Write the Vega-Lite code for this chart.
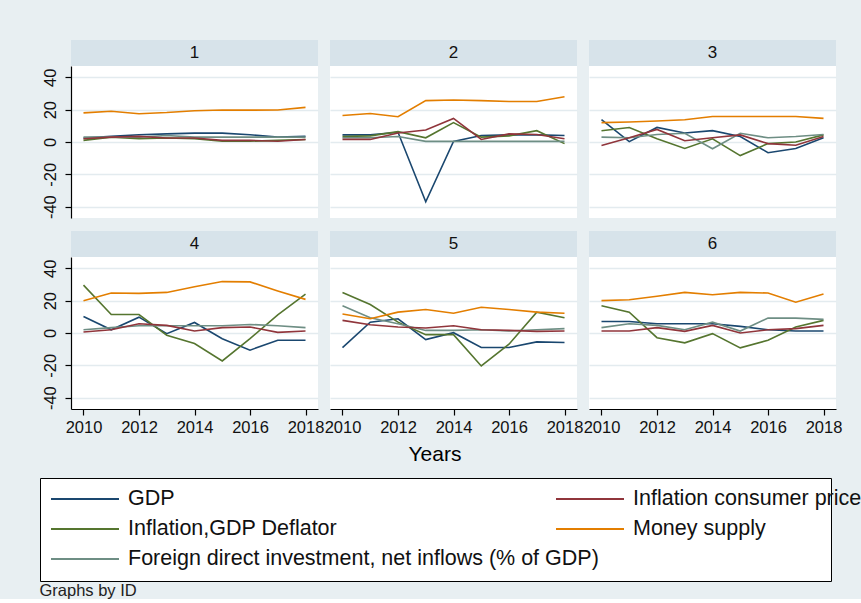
{
  "$schema": "https://vega.github.io/schema/vega-lite/v6.json",
  "background": "#e8eff2",
  "padding": {"left": 39, "top": 39, "right": 0, "bottom": 0},
  "data": {"values": [
    {"id":1,"year":2010,"GDP":2.5,"Inflation consumer price":2,"Inflation,GDP Deflator":1,"Money supply":18,"Foreign direct investment, net inflows (% of GDP)":3},
    {"id":1,"year":2011,"GDP":3.5,"Inflation consumer price":3,"Inflation,GDP Deflator":3,"Money supply":19,"Foreign direct investment, net inflows (% of GDP)":3},
    {"id":1,"year":2012,"GDP":4.5,"Inflation consumer price":3.5,"Inflation,GDP Deflator":2,"Money supply":17.5,"Foreign direct investment, net inflows (% of GDP)":3},
    {"id":1,"year":2013,"GDP":5,"Inflation consumer price":2.5,"Inflation,GDP Deflator":2.5,"Money supply":18.2,"Foreign direct investment, net inflows (% of GDP)":4},
    {"id":1,"year":2014,"GDP":5.5,"Inflation consumer price":2.5,"Inflation,GDP Deflator":2,"Money supply":19.3,"Foreign direct investment, net inflows (% of GDP)":3},
    {"id":1,"year":2015,"GDP":5.5,"Inflation consumer price":1,"Inflation,GDP Deflator":0.5,"Money supply":19.8,"Foreign direct investment, net inflows (% of GDP)":3},
    {"id":1,"year":2016,"GDP":4.5,"Inflation consumer price":1,"Inflation,GDP Deflator":0.5,"Money supply":19.7,"Foreign direct investment, net inflows (% of GDP)":3},
    {"id":1,"year":2017,"GDP":3,"Inflation consumer price":0.5,"Inflation,GDP Deflator":1,"Money supply":19.8,"Foreign direct investment, net inflows (% of GDP)":3},
    {"id":1,"year":2018,"GDP":3.5,"Inflation consumer price":1.5,"Inflation,GDP Deflator":1.5,"Money supply":21.4,"Foreign direct investment, net inflows (% of GDP)":3},
    {"id":2,"year":2010,"GDP":4.4,"Inflation consumer price":1.6,"Inflation,GDP Deflator":3.4,"Money supply":16.4,"Foreign direct investment, net inflows (% of GDP)":2.6},
    {"id":2,"year":2011,"GDP":4.4,"Inflation consumer price":1.6,"Inflation,GDP Deflator":3.8,"Money supply":17.6,"Foreign direct investment, net inflows (% of GDP)":2.6},
    {"id":2,"year":2012,"GDP":6,"Inflation consumer price":5.6,"Inflation,GDP Deflator":6.4,"Money supply":15.6,"Foreign direct investment, net inflows (% of GDP)":3.4},
    {"id":2,"year":2013,"GDP":-37,"Inflation consumer price":7.4,"Inflation,GDP Deflator":2.6,"Money supply":25.6,"Foreign direct investment, net inflows (% of GDP)":0.4},
    {"id":2,"year":2014,"GDP":0.4,"Inflation consumer price":14.6,"Inflation,GDP Deflator":12,"Money supply":26,"Foreign direct investment, net inflows (% of GDP)":0.4},
    {"id":2,"year":2015,"GDP":4,"Inflation consumer price":1.6,"Inflation,GDP Deflator":3,"Money supply":25.6,"Foreign direct investment, net inflows (% of GDP)":0.4},
    {"id":2,"year":2016,"GDP":4.4,"Inflation consumer price":5,"Inflation,GDP Deflator":3.8,"Money supply":25,"Foreign direct investment, net inflows (% of GDP)":0.4},
    {"id":2,"year":2017,"GDP":4.4,"Inflation consumer price":4.6,"Inflation,GDP Deflator":7,"Money supply":25,"Foreign direct investment, net inflows (% of GDP)":0.4},
    {"id":2,"year":2018,"GDP":4,"Inflation consumer price":2,"Inflation,GDP Deflator":-1,"Money supply":28,"Foreign direct investment, net inflows (% of GDP)":0.4},
    {"id":3,"year":2010,"GDP":13.8,"Inflation consumer price":-2.2,"Inflation,GDP Deflator":7,"Money supply":12,"Foreign direct investment, net inflows (% of GDP)":3},
    {"id":3,"year":2011,"GDP":0.2,"Inflation consumer price":2.6,"Inflation,GDP Deflator":9,"Money supply":12.4,"Foreign direct investment, net inflows (% of GDP)":2.6},
    {"id":3,"year":2012,"GDP":9,"Inflation consumer price":7.8,"Inflation,GDP Deflator":2,"Money supply":13,"Foreign direct investment, net inflows (% of GDP)":4.6},
    {"id":3,"year":2013,"GDP":5.6,"Inflation consumer price":0.8,"Inflation,GDP Deflator":-4,"Money supply":13.8,"Foreign direct investment, net inflows (% of GDP)":5.4},
    {"id":3,"year":2014,"GDP":7,"Inflation consumer price":2.6,"Inflation,GDP Deflator":2,"Money supply":15.8,"Foreign direct investment, net inflows (% of GDP)":-4.2},
    {"id":3,"year":2015,"GDP":3.4,"Inflation consumer price":4.4,"Inflation,GDP Deflator":-8.4,"Money supply":15.8,"Foreign direct investment, net inflows (% of GDP)":5.4},
    {"id":3,"year":2016,"GDP":-6.6,"Inflation consumer price":-1,"Inflation,GDP Deflator":-1,"Money supply":15.8,"Foreign direct investment, net inflows (% of GDP)":2.6},
    {"id":3,"year":2017,"GDP":-4,"Inflation consumer price":-2,"Inflation,GDP Deflator":0,"Money supply":15.8,"Foreign direct investment, net inflows (% of GDP)":3.4},
    {"id":3,"year":2018,"GDP":2.6,"Inflation consumer price":3.4,"Inflation,GDP Deflator":4.4,"Money supply":14.6,"Foreign direct investment, net inflows (% of GDP)":4.6},
    {"id":4,"year":2010,"GDP":10.2,"Inflation consumer price":0.6,"Inflation,GDP Deflator":29.6,"Money supply":20,"Foreign direct investment, net inflows (% of GDP)":2},
    {"id":4,"year":2011,"GDP":2,"Inflation consumer price":2,"Inflation,GDP Deflator":11.4,"Money supply":24.7,"Foreign direct investment, net inflows (% of GDP)":3.3},
    {"id":4,"year":2012,"GDP":9.8,"Inflation consumer price":5.7,"Inflation,GDP Deflator":11.4,"Money supply":24.5,"Foreign direct investment, net inflows (% of GDP)":4.5},
    {"id":4,"year":2013,"GDP":-0.4,"Inflation consumer price":4.7,"Inflation,GDP Deflator":-1.4,"Money supply":25.1,"Foreign direct investment, net inflows (% of GDP)":4.5},
    {"id":4,"year":2014,"GDP":6.5,"Inflation consumer price":1.2,"Inflation,GDP Deflator":-6.5,"Money supply":28.6,"Foreign direct investment, net inflows (% of GDP)":4.5},
    {"id":4,"year":2015,"GDP":-3.5,"Inflation consumer price":3.3,"Inflation,GDP Deflator":-17.3,"Money supply":31.8,"Foreign direct investment, net inflows (% of GDP)":4.5},
    {"id":4,"year":2016,"GDP":-10.6,"Inflation consumer price":3.7,"Inflation,GDP Deflator":-3.5,"Money supply":31.6,"Foreign direct investment, net inflows (% of GDP)":5.3},
    {"id":4,"year":2017,"GDP":-4.5,"Inflation consumer price":0.4,"Inflation,GDP Deflator":11.2,"Money supply":26,"Foreign direct investment, net inflows (% of GDP)":4.5},
    {"id":4,"year":2018,"GDP":-4.5,"Inflation consumer price":1.2,"Inflation,GDP Deflator":24,"Money supply":20.8,"Foreign direct investment, net inflows (% of GDP)":3.3},
    {"id":5,"year":2010,"GDP":-9,"Inflation consumer price":7.8,"Inflation,GDP Deflator":25.1,"Money supply":11.8,"Foreign direct investment, net inflows (% of GDP)":16.9},
    {"id":5,"year":2011,"GDP":6.7,"Inflation consumer price":5.1,"Inflation,GDP Deflator":17.6,"Money supply":8.8,"Foreign direct investment, net inflows (% of GDP)":9.4},
    {"id":5,"year":2012,"GDP":8.8,"Inflation consumer price":3.7,"Inflation,GDP Deflator":6.7,"Money supply":12.9,"Foreign direct investment, net inflows (% of GDP)":5.7},
    {"id":5,"year":2013,"GDP":-4.1,"Inflation consumer price":3.1,"Inflation,GDP Deflator":-1,"Money supply":14.5,"Foreign direct investment, net inflows (% of GDP)":1.6},
    {"id":5,"year":2014,"GDP":0.2,"Inflation consumer price":4.5,"Inflation,GDP Deflator":-1,"Money supply":12.2,"Foreign direct investment, net inflows (% of GDP)":1.6},
    {"id":5,"year":2015,"GDP":-9,"Inflation consumer price":2,"Inflation,GDP Deflator":-20.4,"Money supply":15.9,"Foreign direct investment, net inflows (% of GDP)":2},
    {"id":5,"year":2016,"GDP":-9,"Inflation consumer price":1.6,"Inflation,GDP Deflator":-6.9,"Money supply":14.5,"Foreign direct investment, net inflows (% of GDP)":1.2},
    {"id":5,"year":2017,"GDP":-5.5,"Inflation consumer price":1,"Inflation,GDP Deflator":12.9,"Money supply":12.9,"Foreign direct investment, net inflows (% of GDP)":2},
    {"id":5,"year":2018,"GDP":-5.9,"Inflation consumer price":1.2,"Inflation,GDP Deflator":9.4,"Money supply":12.2,"Foreign direct investment, net inflows (% of GDP)":2.7},
    {"id":6,"year":2010,"GDP":7.1,"Inflation consumer price":1.2,"Inflation,GDP Deflator":16.9,"Money supply":20,"Foreign direct investment, net inflows (% of GDP)":3.3},
    {"id":6,"year":2011,"GDP":7.1,"Inflation consumer price":1.2,"Inflation,GDP Deflator":12.9,"Money supply":20.6,"Foreign direct investment, net inflows (% of GDP)":5.7},
    {"id":6,"year":2012,"GDP":5.7,"Inflation consumer price":3.3,"Inflation,GDP Deflator":-2.9,"Money supply":22.7,"Foreign direct investment, net inflows (% of GDP)":4.7},
    {"id":6,"year":2013,"GDP":5.7,"Inflation consumer price":1,"Inflation,GDP Deflator":-6.1,"Money supply":25.1,"Foreign direct investment, net inflows (% of GDP)":2},
    {"id":6,"year":2014,"GDP":5.7,"Inflation consumer price":4.7,"Inflation,GDP Deflator":-0.4,"Money supply":23.7,"Foreign direct investment, net inflows (% of GDP)":6.7},
    {"id":6,"year":2015,"GDP":4.1,"Inflation consumer price":0,"Inflation,GDP Deflator":-9.2,"Money supply":25.1,"Foreign direct investment, net inflows (% of GDP)":1.2},
    {"id":6,"year":2016,"GDP":2,"Inflation consumer price":2,"Inflation,GDP Deflator":-4.5,"Money supply":24.7,"Foreign direct investment, net inflows (% of GDP)":9.2},
    {"id":6,"year":2017,"GDP":1.2,"Inflation consumer price":2.7,"Inflation,GDP Deflator":3.7,"Money supply":19,"Foreign direct investment, net inflows (% of GDP)":9.2},
    {"id":6,"year":2018,"GDP":1.2,"Inflation consumer price":4.7,"Inflation,GDP Deflator":7.8,"Money supply":24.1,"Foreign direct investment, net inflows (% of GDP)":8.4}
  ]},
  "transform": [
    {"fold": ["GDP","Inflation consumer price","Inflation,GDP Deflator","Money supply","Foreign direct investment, net inflows (% of GDP)"], "as": ["series","value"]}
  ],
  "vconcat": [
    {
      "columns": 3,
      "align": "each",
      "spacing": {"row": 11, "column": 0},
      "title": {"text": "Years", "orient": "bottom", "anchor": "middle", "font": "Liberation Sans", "fontSize": 21, "fontWeight": "normal", "color": "#000", "offset": 8, "dx": -7},
      "concat": [
        {
          "transform": [{"filter": "datum.id == 1"}],
          "width": 247, "height": 152,
          "layer": [
            {"transform": [{"filter": {"field": "series", "oneOf": ["GDP","Inflation,GDP Deflator","Foreign direct investment, net inflows (% of GDP)"]}}],
             "mark": {"type": "line", "strokeWidth": 1.6},
             "encoding": {
               "x": {"field": "year", "type": "quantitative", "title": null, "scale": {"domain": [2009.55, 2018.45], "nice": false, "zero": false}, "axis": null},
               "y": {"field": "value", "type": "quantitative", "title": null, "scale": {"domain": [-47, 47], "nice": false, "zero": false}, "axis": {}},
               "color": {"field": "series", "type": "nominal",
                         "scale": {"domain": ["GDP","Inflation,GDP Deflator","Foreign direct investment, net inflows (% of GDP)"], "range": ["#1a476f","#55752f","#6e8e84"]},
                         "legend": {"title": "Inflation consumer price", "titleOrient": "right", "titleAnchor": "end", "titleColor": "transparent", "titleFont": "Liberation Sans", "titleFontSize": 20.5, "titleFontWeight": "normal", "titleLimit": 400, "titlePadding": 4, "legendX": -31, "legendY": 412, "padding": 10, "strokeColor": "#000", "fillColor": "#ffffff", "direction": "vertical", "zindex": 0}}}},
            {"transform": [{"filter": {"field": "series", "oneOf": ["Inflation consumer price","Money supply"]}}],
             "mark": {"type": "line", "strokeWidth": 1.6},
             "encoding": {
               "x": {"field": "year", "type": "quantitative", "title": null, "axis": null},
               "y": {"field": "value", "type": "quantitative", "title": null, "axis": {}},
               "stroke": {"field": "series", "type": "nominal",
                          "scale": {"domain": ["Inflation consumer price","Money supply"], "range": ["#90353b","#e37e00"]},
                          "legend": {"title": null, "legendX": 484, "legendY": 422, "padding": 0, "direction": "vertical", "zindex": 1}}}},
            {"transform": [{"aggregate": [{"op": "count", "as": "n"}], "groupby": ["id"]}],
             "mark": {"type": "rect", "fill": "#d7e3ea"},
             "encoding": {"x": {"datum": 2009.55, "type": "quantitative", "title": null, "axis": null}, "x2": {"datum": 2018.45}, "y": {"datum": 47, "type": "quantitative", "title": null, "axis": {}}, "y2": {"datum": 63.1}}},
            {"transform": [{"aggregate": [{"op": "count", "as": "n"}], "groupby": ["id"]}],
             "mark": {"type": "text", "font": "Liberation Sans", "fontSize": 17, "color": "#111"},
             "encoding": {"x": {"datum": 2014, "type": "quantitative", "title": null, "axis": null}, "y": {"datum": 55.2, "type": "quantitative", "title": null, "axis": {}}, "text": {"field": "id", "type": "nominal"}}}
          ]
        },
        {
          "transform": [{"filter": "datum.id == 2"}],
          "width": 247, "height": 152,
          "layer": [
            {"transform": [{"filter": {"field": "series", "oneOf": ["GDP","Inflation,GDP Deflator","Foreign direct investment, net inflows (% of GDP)"]}}],
             "mark": {"type": "line", "strokeWidth": 1.6},
             "encoding": {
               "x": {"field": "year", "type": "quantitative", "title": null, "scale": {"domain": [2009.55, 2018.45], "nice": false, "zero": false}, "axis": null},
               "y": {"field": "value", "type": "quantitative", "title": null, "scale": {"domain": [-47, 47], "nice": false, "zero": false}, "axis": {"labels": false, "ticks": false, "domain": false}},
               "color": {"field": "series", "type": "nominal"}}},
            {"transform": [{"filter": {"field": "series", "oneOf": ["Inflation consumer price","Money supply"]}}],
             "mark": {"type": "line", "strokeWidth": 1.6},
             "encoding": {
               "x": {"field": "year", "type": "quantitative", "title": null, "axis": null},
               "y": {"field": "value", "type": "quantitative", "title": null, "axis": {"labels": false, "ticks": false, "domain": false}},
               "stroke": {"field": "series", "type": "nominal"}}},
            {"transform": [{"aggregate": [{"op": "count", "as": "n"}], "groupby": ["id"]}],
             "mark": {"type": "rect", "fill": "#d7e3ea"},
             "encoding": {"x": {"datum": 2009.55, "type": "quantitative", "title": null, "axis": null}, "x2": {"datum": 2018.45}, "y": {"datum": 47, "type": "quantitative", "title": null, "axis": {"labels": false, "ticks": false, "domain": false}}, "y2": {"datum": 63.1}}},
            {"transform": [{"aggregate": [{"op": "count", "as": "n"}], "groupby": ["id"]}],
             "mark": {"type": "text", "font": "Liberation Sans", "fontSize": 17, "color": "#111"},
             "encoding": {"x": {"datum": 2014, "type": "quantitative", "title": null, "axis": null}, "y": {"datum": 55.2, "type": "quantitative", "title": null, "axis": {"labels": false, "ticks": false, "domain": false}}, "text": {"field": "id", "type": "nominal"}}}
          ]
        },
        {
          "transform": [{"filter": "datum.id == 3"}],
          "width": 247, "height": 152,
          "layer": [
            {"transform": [{"filter": {"field": "series", "oneOf": ["GDP","Inflation,GDP Deflator","Foreign direct investment, net inflows (% of GDP)"]}}],
             "mark": {"type": "line", "strokeWidth": 1.6},
             "encoding": {
               "x": {"field": "year", "type": "quantitative", "title": null, "scale": {"domain": [2009.55, 2018.45], "nice": false, "zero": false}, "axis": null},
               "y": {"field": "value", "type": "quantitative", "title": null, "scale": {"domain": [-47, 47], "nice": false, "zero": false}, "axis": {"labels": false, "ticks": false, "domain": false}},
               "color": {"field": "series", "type": "nominal"}}},
            {"transform": [{"filter": {"field": "series", "oneOf": ["Inflation consumer price","Money supply"]}}],
             "mark": {"type": "line", "strokeWidth": 1.6},
             "encoding": {
               "x": {"field": "year", "type": "quantitative", "title": null, "axis": null},
               "y": {"field": "value", "type": "quantitative", "title": null, "axis": {"labels": false, "ticks": false, "domain": false}},
               "stroke": {"field": "series", "type": "nominal"}}},
            {"transform": [{"aggregate": [{"op": "count", "as": "n"}], "groupby": ["id"]}],
             "mark": {"type": "rect", "fill": "#d7e3ea"},
             "encoding": {"x": {"datum": 2009.55, "type": "quantitative", "title": null, "axis": null}, "x2": {"datum": 2018.45}, "y": {"datum": 47, "type": "quantitative", "title": null, "axis": {"labels": false, "ticks": false, "domain": false}}, "y2": {"datum": 63.1}}},
            {"transform": [{"aggregate": [{"op": "count", "as": "n"}], "groupby": ["id"]}],
             "mark": {"type": "text", "font": "Liberation Sans", "fontSize": 17, "color": "#111"},
             "encoding": {"x": {"datum": 2014, "type": "quantitative", "title": null, "axis": null}, "y": {"datum": 55.2, "type": "quantitative", "title": null, "axis": {"labels": false, "ticks": false, "domain": false}}, "text": {"field": "id", "type": "nominal"}}}
          ]
        },
        {
          "transform": [{"filter": "datum.id == 4"}],
          "width": 247, "height": 152,
          "layer": [
            {"transform": [{"filter": {"field": "series", "oneOf": ["GDP","Inflation,GDP Deflator","Foreign direct investment, net inflows (% of GDP)"]}}],
             "mark": {"type": "line", "strokeWidth": 1.6},
             "encoding": {
               "x": {"field": "year", "type": "quantitative", "title": null, "scale": {"domain": [2009.55, 2018.45], "nice": false, "zero": false}, "axis": {}},
               "y": {"field": "value", "type": "quantitative", "title": null, "scale": {"domain": [-47, 47], "nice": false, "zero": false}, "axis": {}},
               "color": {"field": "series", "type": "nominal"}}},
            {"transform": [{"filter": {"field": "series", "oneOf": ["Inflation consumer price","Money supply"]}}],
             "mark": {"type": "line", "strokeWidth": 1.6},
             "encoding": {
               "x": {"field": "year", "type": "quantitative", "title": null, "axis": {}},
               "y": {"field": "value", "type": "quantitative", "title": null, "axis": {}},
               "stroke": {"field": "series", "type": "nominal"}}},
            {"transform": [{"aggregate": [{"op": "count", "as": "n"}], "groupby": ["id"]}],
             "mark": {"type": "rect", "fill": "#d7e3ea"},
             "encoding": {"x": {"datum": 2009.55, "type": "quantitative", "title": null, "axis": {}}, "x2": {"datum": 2018.45}, "y": {"datum": 47, "type": "quantitative", "title": null, "axis": {}}, "y2": {"datum": 63.1}}},
            {"transform": [{"aggregate": [{"op": "count", "as": "n"}], "groupby": ["id"]}],
             "mark": {"type": "text", "font": "Liberation Sans", "fontSize": 17, "color": "#111"},
             "encoding": {"x": {"datum": 2014, "type": "quantitative", "title": null, "axis": {}}, "y": {"datum": 55.2, "type": "quantitative", "title": null, "axis": {}}, "text": {"field": "id", "type": "nominal"}}}
          ]
        },
        {
          "transform": [{"filter": "datum.id == 5"}],
          "width": 247, "height": 152,
          "layer": [
            {"transform": [{"filter": {"field": "series", "oneOf": ["GDP","Inflation,GDP Deflator","Foreign direct investment, net inflows (% of GDP)"]}}],
             "mark": {"type": "line", "strokeWidth": 1.6},
             "encoding": {
               "x": {"field": "year", "type": "quantitative", "title": null, "scale": {"domain": [2009.55, 2018.45], "nice": false, "zero": false}, "axis": {}},
               "y": {"field": "value", "type": "quantitative", "title": null, "scale": {"domain": [-47, 47], "nice": false, "zero": false}, "axis": {"labels": false, "ticks": false, "domain": false}},
               "color": {"field": "series", "type": "nominal"}}},
            {"transform": [{"filter": {"field": "series", "oneOf": ["Inflation consumer price","Money supply"]}}],
             "mark": {"type": "line", "strokeWidth": 1.6},
             "encoding": {
               "x": {"field": "year", "type": "quantitative", "title": null, "axis": {}},
               "y": {"field": "value", "type": "quantitative", "title": null, "axis": {"labels": false, "ticks": false, "domain": false}},
               "stroke": {"field": "series", "type": "nominal"}}},
            {"transform": [{"aggregate": [{"op": "count", "as": "n"}], "groupby": ["id"]}],
             "mark": {"type": "rect", "fill": "#d7e3ea"},
             "encoding": {"x": {"datum": 2009.55, "type": "quantitative", "title": null, "axis": {}}, "x2": {"datum": 2018.45}, "y": {"datum": 47, "type": "quantitative", "title": null, "axis": {"labels": false, "ticks": false, "domain": false}}, "y2": {"datum": 63.1}}},
            {"transform": [{"aggregate": [{"op": "count", "as": "n"}], "groupby": ["id"]}],
             "mark": {"type": "text", "font": "Liberation Sans", "fontSize": 17, "color": "#111"},
             "encoding": {"x": {"datum": 2014, "type": "quantitative", "title": null, "axis": {}}, "y": {"datum": 55.2, "type": "quantitative", "title": null, "axis": {"labels": false, "ticks": false, "domain": false}}, "text": {"field": "id", "type": "nominal"}}}
          ]
        },
        {
          "transform": [{"filter": "datum.id == 6"}],
          "width": 247, "height": 152,
          "layer": [
            {"transform": [{"filter": {"field": "series", "oneOf": ["GDP","Inflation,GDP Deflator","Foreign direct investment, net inflows (% of GDP)"]}}],
             "mark": {"type": "line", "strokeWidth": 1.6},
             "encoding": {
               "x": {"field": "year", "type": "quantitative", "title": null, "scale": {"domain": [2009.55, 2018.45], "nice": false, "zero": false}, "axis": {}},
               "y": {"field": "value", "type": "quantitative", "title": null, "scale": {"domain": [-47, 47], "nice": false, "zero": false}, "axis": {"labels": false, "ticks": false, "domain": false}},
               "color": {"field": "series", "type": "nominal"}}},
            {"transform": [{"filter": {"field": "series", "oneOf": ["Inflation consumer price","Money supply"]}}],
             "mark": {"type": "line", "strokeWidth": 1.6},
             "encoding": {
               "x": {"field": "year", "type": "quantitative", "title": null, "axis": {}},
               "y": {"field": "value", "type": "quantitative", "title": null, "axis": {"labels": false, "ticks": false, "domain": false}},
               "stroke": {"field": "series", "type": "nominal"}}},
            {"transform": [{"aggregate": [{"op": "count", "as": "n"}], "groupby": ["id"]}],
             "mark": {"type": "rect", "fill": "#d7e3ea"},
             "encoding": {"x": {"datum": 2009.55, "type": "quantitative", "title": null, "axis": {}}, "x2": {"datum": 2018.45}, "y": {"datum": 47, "type": "quantitative", "title": null, "axis": {"labels": false, "ticks": false, "domain": false}}, "y2": {"datum": 63.1}}},
            {"transform": [{"aggregate": [{"op": "count", "as": "n"}], "groupby": ["id"]}],
             "mark": {"type": "text", "font": "Liberation Sans", "fontSize": 17, "color": "#111"},
             "encoding": {"x": {"datum": 2014, "type": "quantitative", "title": null, "axis": {}}, "y": {"datum": 55.2, "type": "quantitative", "title": null, "axis": {"labels": false, "ticks": false, "domain": false}}, "text": {"field": "id", "type": "nominal"}}}
          ]
        }
      ]
    }
  ],
  "title": {"text": "Graphs by ID", "orient": "bottom", "anchor": "start", "frame": "bounds", "font": "Liberation Sans", "fontSize": 16.5, "fontWeight": "normal", "color": "#222", "offset": 1},
  "config": {
    "view": {"stroke": null, "fill": "#ffffff"},
    "axis": {"labelFont": "Liberation Sans", "labelFontSize": 16.5, "labelColor": "#111", "domainColor": "#000", "tickColor": "#000", "domainWidth": 1.2, "tickWidth": 1.2, "gridColor": "#e3ebef", "gridWidth": 1.5, "tickSize": 6, "labelOverlap": false, "labelFlush": false},
    "axisX": {"grid": false, "tickCount": 5, "format": "d", "labelPadding": 4},
    "axisY": {"grid": true, "tickCount": 5, "labelAngle": 270, "labelPadding": 7, "labelExpr": "'' + datum.value"},
    "legend": {
      "orient": "none", "rowPadding": 8,
      "symbolType": "M-1,0H5.8", "symbolSize": 400, "symbolStrokeWidth": 2,
      "labelFont": "Liberation Sans", "labelFontSize": 21.5, "labelColor": "#111", "labelOffset": 56, "labelLimit": 700
    }
  }
}
